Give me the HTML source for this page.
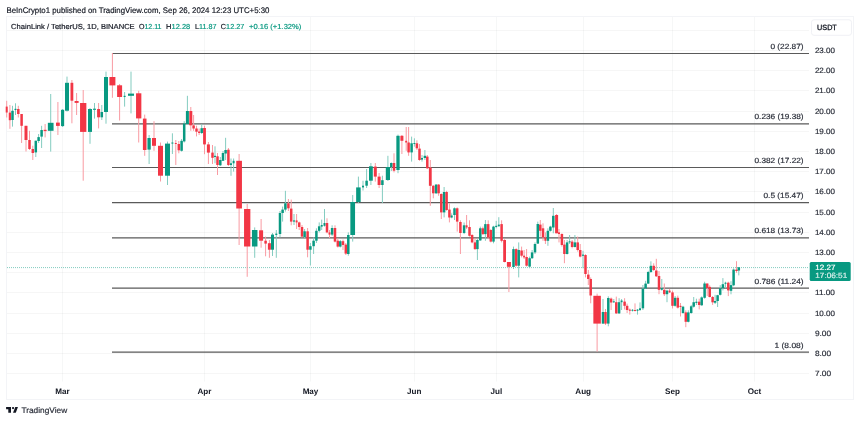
<!DOCTYPE html><html><head><meta charset="utf-8"><title>ChainLink / TetherUS</title><style>
html,body{margin:0;padding:0;background:#fff;}
body{width:860px;height:421px;overflow:hidden;position:relative;}
svg{position:absolute;left:0;top:0;}
text{font-family:'Liberation Sans', Arial, sans-serif;text-rendering:geometricPrecision;}
</style></head><body>
<svg width="860" height="421" viewBox="0 0 860 421">
<rect x="6.5" y="16.5" width="847" height="383" fill="#fff" stroke="#f3f4f7" stroke-width="1"/>
<g stroke="#000" stroke-opacity="0.035" stroke-width="1"><line x1="7" x2="809" y1="373.5" y2="373.5"/><line x1="7" x2="809" y1="353.5" y2="353.5"/><line x1="7" x2="809" y1="333.5" y2="333.5"/><line x1="7" x2="809" y1="313.5" y2="313.5"/><line x1="7" x2="809" y1="292.5" y2="292.5"/><line x1="7" x2="809" y1="272.5" y2="272.5"/><line x1="7" x2="809" y1="252.5" y2="252.5"/><line x1="7" x2="809" y1="232.5" y2="232.5"/><line x1="7" x2="809" y1="212.5" y2="212.5"/><line x1="7" x2="809" y1="191.5" y2="191.5"/><line x1="7" x2="809" y1="171.5" y2="171.5"/><line x1="7" x2="809" y1="151.5" y2="151.5"/><line x1="7" x2="809" y1="131.5" y2="131.5"/><line x1="7" x2="809" y1="111.5" y2="111.5"/><line x1="7" x2="809" y1="90.5" y2="90.5"/><line x1="7" x2="809" y1="70.5" y2="70.5"/><line x1="7" x2="809" y1="50.5" y2="50.5"/><line x1="7" x2="809" y1="30.5" y2="30.5"/></g>
<g stroke="#203030" stroke-opacity="0.04" stroke-width="1"><line x1="62.5" x2="62.5" y1="17" y2="381.5"/><line x1="204.5" x2="204.5" y1="17" y2="381.5"/><line x1="310.5" x2="310.5" y1="17" y2="381.5"/><line x1="414.5" x2="414.5" y1="17" y2="381.5"/><line x1="496.5" x2="496.5" y1="17" y2="381.5"/><line x1="583.5" x2="583.5" y1="17" y2="381.5"/><line x1="672.5" x2="672.5" y1="17" y2="381.5"/><line x1="754.5" x2="754.5" y1="17" y2="381.5"/></g>
<line x1="7" x2="809" y1="267.6" y2="267.6" stroke="#089981" stroke-opacity="0.5" stroke-width="1" stroke-dasharray="1 1"/>
<line x1="112" x2="809" y1="53.50" y2="53.50" stroke="#5a5a5a" stroke-width="1.05"/>
<line x1="112" x2="809" y1="123.85" y2="123.85" stroke="#5a5a5a" stroke-width="1.25"/>
<line x1="112" x2="809" y1="167.50" y2="167.50" stroke="#5a5a5a" stroke-width="1.05"/>
<line x1="112" x2="809" y1="202.55" y2="202.55" stroke="#5a5a5a" stroke-width="1.25"/>
<line x1="112" x2="809" y1="237.85" y2="237.85" stroke="#5a5a5a" stroke-width="1.25"/>
<line x1="112" x2="809" y1="288.00" y2="288.00" stroke="#5a5a5a" stroke-width="1.25"/>
<line x1="112" x2="809" y1="352.15" y2="352.15" stroke="#5a5a5a" stroke-width="1.25"/>
<text x="803.60" y="49.00" font-size="7.50" fill="#2a2e39" stroke="#2a2e39" stroke-width="0.18" text-anchor="end" textLength="33.20" lengthAdjust="spacingAndGlyphs">0 (22.87)</text>
<text x="803.60" y="119.35" font-size="7.50" fill="#2a2e39" stroke="#2a2e39" stroke-width="0.18" text-anchor="end" textLength="49.10" lengthAdjust="spacingAndGlyphs">0.236 (19.38)</text>
<text x="803.60" y="163.00" font-size="7.50" fill="#2a2e39" stroke="#2a2e39" stroke-width="0.18" text-anchor="end" textLength="49.10" lengthAdjust="spacingAndGlyphs">0.382 (17.22)</text>
<text x="803.60" y="198.05" font-size="7.50" fill="#2a2e39" stroke="#2a2e39" stroke-width="0.18" text-anchor="end" textLength="40.10" lengthAdjust="spacingAndGlyphs">0.5 (15.47)</text>
<text x="803.60" y="233.35" font-size="7.50" fill="#2a2e39" stroke="#2a2e39" stroke-width="0.18" text-anchor="end" textLength="49.10" lengthAdjust="spacingAndGlyphs">0.618 (13.73)</text>
<text x="803.60" y="283.50" font-size="7.50" fill="#2a2e39" stroke="#2a2e39" stroke-width="0.18" text-anchor="end" textLength="49.10" lengthAdjust="spacingAndGlyphs">0.786 (11.24)</text>
<text x="803.60" y="347.65" font-size="7.50" fill="#2a2e39" stroke="#2a2e39" stroke-width="0.18" text-anchor="end" textLength="29.10" lengthAdjust="spacingAndGlyphs">1 (8.08)</text>
<g><rect x="6.20" y="100.80" width="1" height="16.70" fill="#f99ba2"/><rect x="9.40" y="105.00" width="1" height="23.80" fill="#f99ba2"/><rect x="12.00" y="105.80" width="1" height="20.80" fill="#84ccc0"/><rect x="15.00" y="103.30" width="1" height="11.70" fill="#84ccc0"/><rect x="17.80" y="105.80" width="1" height="11.70" fill="#f99ba2"/><rect x="21.10" y="114.00" width="1" height="29.00" fill="#f99ba2"/><rect x="25.50" y="125.80" width="1" height="25.70" fill="#f99ba2"/><rect x="29.00" y="130.80" width="1" height="19.20" fill="#f99ba2"/><rect x="32.30" y="145.70" width="1" height="14.30" fill="#f99ba2"/><rect x="35.30" y="140.70" width="1" height="16.30" fill="#84ccc0"/><rect x="38.10" y="134.00" width="1" height="9.00" fill="#84ccc0"/><rect x="41.10" y="125.80" width="1" height="22.20" fill="#84ccc0"/><rect x="44.60" y="124.00" width="1" height="13.40" fill="#f99ba2"/><rect x="50.20" y="94.00" width="1" height="57.60" fill="#84ccc0"/><rect x="57.40" y="102.00" width="1" height="33.00" fill="#f99ba2"/><rect x="62.10" y="109.00" width="1" height="18.00" fill="#84ccc0"/><rect x="66.50" y="76.60" width="1" height="35.00" fill="#84ccc0"/><rect x="71.40" y="80.00" width="1" height="43.30" fill="#f99ba2"/><rect x="76.10" y="93.00" width="1" height="22.00" fill="#f99ba2"/><rect x="82.70" y="90.00" width="1" height="90.70" fill="#f99ba2"/><rect x="89.50" y="108.00" width="1" height="35.80" fill="#84ccc0"/><rect x="94.00" y="103.00" width="1" height="15.60" fill="#84ccc0"/><rect x="98.10" y="103.00" width="1" height="25.40" fill="#f99ba2"/><rect x="101.30" y="105.00" width="1" height="15.00" fill="#84ccc0"/><rect x="105.50" y="71.60" width="1" height="52.10" fill="#84ccc0"/><rect x="111.90" y="53.00" width="1" height="44.80" fill="#f99ba2"/><rect x="119.10" y="84.00" width="1" height="36.50" fill="#f99ba2"/><rect x="124.10" y="92.00" width="1" height="14.60" fill="#84ccc0"/><rect x="130.50" y="71.60" width="1" height="41.80" fill="#84ccc0"/><rect x="138.20" y="90.80" width="1" height="51.70" fill="#f99ba2"/><rect x="144.20" y="114.60" width="1" height="41.20" fill="#f99ba2"/><rect x="148.60" y="135.00" width="1" height="29.00" fill="#84ccc0"/><rect x="153.50" y="121.20" width="1" height="29.60" fill="#f99ba2"/><rect x="160.00" y="142.50" width="1" height="39.00" fill="#f99ba2"/><rect x="167.00" y="141.60" width="1" height="43.40" fill="#84ccc0"/><rect x="171.90" y="133.30" width="1" height="20.70" fill="#84ccc0"/><rect x="175.30" y="140.00" width="1" height="25.00" fill="#f99ba2"/><rect x="178.30" y="141.00" width="1" height="12.30" fill="#f99ba2"/><rect x="181.10" y="139.00" width="1" height="12.60" fill="#84ccc0"/><rect x="183.70" y="121.20" width="1" height="21.30" fill="#84ccc0"/><rect x="186.90" y="95.80" width="1" height="29.20" fill="#84ccc0"/><rect x="190.30" y="107.00" width="1" height="23.80" fill="#f99ba2"/><rect x="193.10" y="115.00" width="1" height="15.80" fill="#f99ba2"/><rect x="196.00" y="125.70" width="1" height="10.70" fill="#f99ba2"/><rect x="198.60" y="128.50" width="1" height="6.50" fill="#f99ba2"/><rect x="201.20" y="124.20" width="1" height="9.80" fill="#84ccc0"/><rect x="204.00" y="125.70" width="1" height="28.50" fill="#f99ba2"/><rect x="207.90" y="142.00" width="1" height="22.00" fill="#f99ba2"/><rect x="212.00" y="145.00" width="1" height="19.00" fill="#f99ba2"/><rect x="214.50" y="146.30" width="1" height="17.00" fill="#84ccc0"/><rect x="217.00" y="153.00" width="1" height="22.00" fill="#f99ba2"/><rect x="219.80" y="157.00" width="1" height="9.00" fill="#84ccc0"/><rect x="222.50" y="151.00" width="1" height="10.00" fill="#84ccc0"/><rect x="225.10" y="137.80" width="1" height="22.20" fill="#84ccc0"/><rect x="227.90" y="148.00" width="1" height="18.00" fill="#f99ba2"/><rect x="230.50" y="158.50" width="1" height="17.30" fill="#84ccc0"/><rect x="233.10" y="158.50" width="1" height="13.10" fill="#84ccc0"/><rect x="238.60" y="154.00" width="1" height="91.00" fill="#f99ba2"/><rect x="246.70" y="204.00" width="1" height="72.80" fill="#f99ba2"/><rect x="254.20" y="227.40" width="1" height="30.40" fill="#84ccc0"/><rect x="260.60" y="219.00" width="1" height="28.70" fill="#f99ba2"/><rect x="265.10" y="236.60" width="1" height="19.70" fill="#f99ba2"/><rect x="268.90" y="240.00" width="1" height="17.80" fill="#f99ba2"/><rect x="272.00" y="233.00" width="1" height="23.00" fill="#84ccc0"/><rect x="275.80" y="230.00" width="1" height="27.80" fill="#84ccc0"/><rect x="279.50" y="211.00" width="1" height="26.40" fill="#84ccc0"/><rect x="282.10" y="206.60" width="1" height="15.00" fill="#84ccc0"/><rect x="284.90" y="190.80" width="1" height="20.80" fill="#84ccc0"/><rect x="287.90" y="199.00" width="1" height="12.00" fill="#f99ba2"/><rect x="290.70" y="199.60" width="1" height="25.70" fill="#f99ba2"/><rect x="293.50" y="214.00" width="1" height="11.00" fill="#84ccc0"/><rect x="296.10" y="214.00" width="1" height="15.00" fill="#f99ba2"/><rect x="298.70" y="221.60" width="1" height="8.40" fill="#f99ba2"/><rect x="301.50" y="225.00" width="1" height="12.40" fill="#f99ba2"/><rect x="304.10" y="229.00" width="1" height="9.30" fill="#84ccc0"/><rect x="307.10" y="228.00" width="1" height="29.30" fill="#f99ba2"/><rect x="309.90" y="243.00" width="1" height="22.50" fill="#84ccc0"/><rect x="313.10" y="237.40" width="1" height="16.60" fill="#84ccc0"/><rect x="315.90" y="228.30" width="1" height="14.70" fill="#84ccc0"/><rect x="318.70" y="222.40" width="1" height="10.00" fill="#84ccc0"/><rect x="321.20" y="219.60" width="1" height="10.40" fill="#84ccc0"/><rect x="324.00" y="209.00" width="1" height="17.60" fill="#84ccc0"/><rect x="326.50" y="218.30" width="1" height="15.00" fill="#f99ba2"/><rect x="329.00" y="230.00" width="1" height="8.00" fill="#f99ba2"/><rect x="331.60" y="225.30" width="1" height="10.70" fill="#84ccc0"/><rect x="334.50" y="225.30" width="1" height="17.10" fill="#f99ba2"/><rect x="337.30" y="238.30" width="1" height="9.20" fill="#f99ba2"/><rect x="339.80" y="240.00" width="1" height="7.50" fill="#84ccc0"/><rect x="342.50" y="239.60" width="1" height="10.40" fill="#f99ba2"/><rect x="345.30" y="243.00" width="1" height="12.00" fill="#f99ba2"/><rect x="347.80" y="232.40" width="1" height="23.30" fill="#84ccc0"/><rect x="352.20" y="195.00" width="1" height="46.60" fill="#84ccc0"/><rect x="357.90" y="176.60" width="1" height="26.40" fill="#84ccc0"/><rect x="362.50" y="180.70" width="1" height="9.80" fill="#84ccc0"/><rect x="366.10" y="169.00" width="1" height="19.00" fill="#84ccc0"/><rect x="370.40" y="163.00" width="1" height="22.00" fill="#84ccc0"/><rect x="374.80" y="163.00" width="1" height="18.60" fill="#f99ba2"/><rect x="378.60" y="173.00" width="1" height="15.00" fill="#f99ba2"/><rect x="381.90" y="175.70" width="1" height="27.30" fill="#84ccc0"/><rect x="387.40" y="155.80" width="1" height="25.20" fill="#84ccc0"/><rect x="390.80" y="162.40" width="1" height="8.60" fill="#84ccc0"/><rect x="393.50" y="153.30" width="1" height="19.10" fill="#f99ba2"/><rect x="397.50" y="134.60" width="1" height="38.60" fill="#84ccc0"/><rect x="401.40" y="135.00" width="1" height="19.00" fill="#f99ba2"/><rect x="405.70" y="127.00" width="1" height="23.80" fill="#f99ba2"/><rect x="408.10" y="127.00" width="1" height="28.80" fill="#f99ba2"/><rect x="411.10" y="136.60" width="1" height="25.00" fill="#84ccc0"/><rect x="413.90" y="138.30" width="1" height="8.30" fill="#84ccc0"/><rect x="416.40" y="140.30" width="1" height="9.70" fill="#f99ba2"/><rect x="419.00" y="144.00" width="1" height="16.80" fill="#f99ba2"/><rect x="421.50" y="155.00" width="1" height="6.60" fill="#84ccc0"/><rect x="424.40" y="150.00" width="1" height="10.00" fill="#84ccc0"/><rect x="426.80" y="155.00" width="1" height="14.00" fill="#f99ba2"/><rect x="429.80" y="160.00" width="1" height="45.80" fill="#f99ba2"/><rect x="432.80" y="185.00" width="1" height="13.30" fill="#f99ba2"/><rect x="435.60" y="184.00" width="1" height="10.00" fill="#84ccc0"/><rect x="438.10" y="184.00" width="1" height="11.80" fill="#f99ba2"/><rect x="440.80" y="193.30" width="1" height="25.70" fill="#f99ba2"/><rect x="443.60" y="187.00" width="1" height="30.40" fill="#84ccc0"/><rect x="446.10" y="190.80" width="1" height="20.00" fill="#f99ba2"/><rect x="448.90" y="203.30" width="1" height="19.10" fill="#f99ba2"/><rect x="451.20" y="213.30" width="1" height="5.00" fill="#84ccc0"/><rect x="454.00" y="207.40" width="1" height="12.60" fill="#84ccc0"/><rect x="456.70" y="207.40" width="1" height="24.20" fill="#f99ba2"/><rect x="459.90" y="220.30" width="1" height="33.70" fill="#f99ba2"/><rect x="463.60" y="222.50" width="1" height="11.60" fill="#84ccc0"/><rect x="466.10" y="215.00" width="1" height="14.10" fill="#f99ba2"/><rect x="469.00" y="220.30" width="1" height="16.30" fill="#f99ba2"/><rect x="471.60" y="234.10" width="1" height="9.20" fill="#f99ba2"/><rect x="474.50" y="238.30" width="1" height="11.60" fill="#f99ba2"/><rect x="476.90" y="239.00" width="1" height="21.00" fill="#84ccc0"/><rect x="479.80" y="226.60" width="1" height="14.20" fill="#84ccc0"/><rect x="482.40" y="226.60" width="1" height="8.40" fill="#f99ba2"/><rect x="484.90" y="220.00" width="1" height="20.80" fill="#84ccc0"/><rect x="487.70" y="220.30" width="1" height="18.80" fill="#f99ba2"/><rect x="490.30" y="229.10" width="1" height="13.30" fill="#f99ba2"/><rect x="493.00" y="225.80" width="1" height="17.50" fill="#84ccc0"/><rect x="495.70" y="220.80" width="1" height="7.50" fill="#84ccc0"/><rect x="498.30" y="217.20" width="1" height="9.40" fill="#84ccc0"/><rect x="501.10" y="220.30" width="1" height="22.10" fill="#f99ba2"/><rect x="504.10" y="239.10" width="1" height="23.30" fill="#f99ba2"/><rect x="508.40" y="262.00" width="1" height="30.00" fill="#f99ba2"/><rect x="513.00" y="246.60" width="1" height="22.40" fill="#84ccc0"/><rect x="515.70" y="248.30" width="1" height="18.30" fill="#f99ba2"/><rect x="518.20" y="242.40" width="1" height="35.00" fill="#84ccc0"/><rect x="521.10" y="246.60" width="1" height="10.80" fill="#f99ba2"/><rect x="523.60" y="250.00" width="1" height="9.00" fill="#f99ba2"/><rect x="526.10" y="249.00" width="1" height="17.60" fill="#f99ba2"/><rect x="529.10" y="256.60" width="1" height="11.60" fill="#84ccc0"/><rect x="531.60" y="250.00" width="1" height="9.00" fill="#84ccc0"/><rect x="534.50" y="242.40" width="1" height="11.60" fill="#84ccc0"/><rect x="537.30" y="221.60" width="1" height="22.40" fill="#84ccc0"/><rect x="539.80" y="220.00" width="1" height="16.60" fill="#f99ba2"/><rect x="542.50" y="223.30" width="1" height="17.50" fill="#f99ba2"/><rect x="544.90" y="232.40" width="1" height="11.60" fill="#f99ba2"/><rect x="547.40" y="228.30" width="1" height="17.50" fill="#84ccc0"/><rect x="549.90" y="225.80" width="1" height="5.80" fill="#84ccc0"/><rect x="552.80" y="208.00" width="1" height="25.30" fill="#84ccc0"/><rect x="556.10" y="214.00" width="1" height="19.30" fill="#f99ba2"/><rect x="558.50" y="229.00" width="1" height="13.40" fill="#f99ba2"/><rect x="561.40" y="233.30" width="1" height="13.30" fill="#f99ba2"/><rect x="563.90" y="240.00" width="1" height="23.20" fill="#f99ba2"/><rect x="566.60" y="240.00" width="1" height="14.50" fill="#84ccc0"/><rect x="569.10" y="235.00" width="1" height="9.00" fill="#84ccc0"/><rect x="571.60" y="240.00" width="1" height="8.30" fill="#f99ba2"/><rect x="574.40" y="235.00" width="1" height="12.50" fill="#84ccc0"/><rect x="577.20" y="236.60" width="1" height="15.00" fill="#f99ba2"/><rect x="579.70" y="244.00" width="1" height="13.40" fill="#f99ba2"/><rect x="582.50" y="250.80" width="1" height="17.50" fill="#84ccc0"/><rect x="585.00" y="254.20" width="1" height="23.20" fill="#f99ba2"/><rect x="587.80" y="270.00" width="1" height="15.00" fill="#f99ba2"/><rect x="590.20" y="277.40" width="1" height="25.90" fill="#f99ba2"/><rect x="596.60" y="293.60" width="1" height="58.00" fill="#f99ba2"/><rect x="602.50" y="299.00" width="1" height="25.00" fill="#84ccc0"/><rect x="605.00" y="309.00" width="1" height="16.00" fill="#f99ba2"/><rect x="607.80" y="296.30" width="1" height="30.00" fill="#84ccc0"/><rect x="610.60" y="297.50" width="1" height="12.50" fill="#f99ba2"/><rect x="613.30" y="299.00" width="1" height="4.00" fill="#84ccc0"/><rect x="615.80" y="296.60" width="1" height="17.40" fill="#f99ba2"/><rect x="618.60" y="298.20" width="1" height="15.80" fill="#84ccc0"/><rect x="621.10" y="299.00" width="1" height="11.00" fill="#84ccc0"/><rect x="624.10" y="298.20" width="1" height="11.30" fill="#f99ba2"/><rect x="626.60" y="303.60" width="1" height="9.40" fill="#f99ba2"/><rect x="629.30" y="308.50" width="1" height="6.10" fill="#f99ba2"/><rect x="632.00" y="309.00" width="1" height="2.50" fill="#84ccc0"/><rect x="634.50" y="303.40" width="1" height="8.10" fill="#f99ba2"/><rect x="637.00" y="309.00" width="1" height="5.60" fill="#84ccc0"/><rect x="639.50" y="302.40" width="1" height="8.60" fill="#84ccc0"/><rect x="642.40" y="285.00" width="1" height="25.00" fill="#84ccc0"/><rect x="645.10" y="280.80" width="1" height="8.20" fill="#84ccc0"/><rect x="647.70" y="270.80" width="1" height="13.20" fill="#84ccc0"/><rect x="650.40" y="261.30" width="1" height="11.70" fill="#84ccc0"/><rect x="653.20" y="263.30" width="1" height="7.70" fill="#f99ba2"/><rect x="655.80" y="258.80" width="1" height="18.20" fill="#f99ba2"/><rect x="658.50" y="271.00" width="1" height="23.20" fill="#f99ba2"/><rect x="661.30" y="279.00" width="1" height="11.60" fill="#84ccc0"/><rect x="663.80" y="283.50" width="1" height="12.50" fill="#f99ba2"/><rect x="666.50" y="289.80" width="1" height="12.40" fill="#84ccc0"/><rect x="669.10" y="288.90" width="1" height="4.10" fill="#f99ba2"/><rect x="672.00" y="290.60" width="1" height="17.90" fill="#f99ba2"/><rect x="674.60" y="296.00" width="1" height="10.70" fill="#84ccc0"/><rect x="677.30" y="295.60" width="1" height="12.90" fill="#f99ba2"/><rect x="680.00" y="303.00" width="1" height="13.50" fill="#f99ba2"/><rect x="682.50" y="305.80" width="1" height="8.00" fill="#84ccc0"/><rect x="685.30" y="310.30" width="1" height="16.90" fill="#f99ba2"/><rect x="687.80" y="310.30" width="1" height="12.10" fill="#84ccc0"/><rect x="690.70" y="304.90" width="1" height="8.90" fill="#84ccc0"/><rect x="693.20" y="297.00" width="1" height="10.60" fill="#84ccc0"/><rect x="695.90" y="298.70" width="1" height="6.30" fill="#84ccc0"/><rect x="698.70" y="298.70" width="1" height="10.70" fill="#f99ba2"/><rect x="701.20" y="296.40" width="1" height="9.40" fill="#84ccc0"/><rect x="704.10" y="281.70" width="1" height="17.00" fill="#84ccc0"/><rect x="706.70" y="283.50" width="1" height="12.50" fill="#f99ba2"/><rect x="709.20" y="285.30" width="1" height="12.10" fill="#f99ba2"/><rect x="712.10" y="296.00" width="1" height="8.90" fill="#f99ba2"/><rect x="714.60" y="294.80" width="1" height="9.20" fill="#84ccc0"/><rect x="717.10" y="294.80" width="1" height="12.20" fill="#84ccc0"/><rect x="719.70" y="285.10" width="1" height="10.40" fill="#84ccc0"/><rect x="722.40" y="278.10" width="1" height="12.30" fill="#84ccc0"/><rect x="725.00" y="281.70" width="1" height="6.50" fill="#84ccc0"/><rect x="727.80" y="281.70" width="1" height="14.40" fill="#f99ba2"/><rect x="730.50" y="281.20" width="1" height="13.10" fill="#84ccc0"/><rect x="733.10" y="268.40" width="1" height="17.80" fill="#84ccc0"/><rect x="736.00" y="261.20" width="1" height="11.60" fill="#f99ba2"/><rect x="738.30" y="267.10" width="1" height="8.30" fill="#84ccc0"/></g>
<g><rect x="5.70" y="106.60" width="2.00" height="5.90" fill="#F23645"/><rect x="8.75" y="112.60" width="2.30" height="7.60" fill="#F23645"/><rect x="11.25" y="110.80" width="2.50" height="9.20" fill="#089981"/><rect x="14.50" y="108.80" width="2.00" height="1.20" fill="#089981"/><rect x="17.05" y="109.00" width="2.50" height="5.00" fill="#F23645"/><rect x="20.35" y="114.00" width="2.50" height="11.80" fill="#F23645"/><rect x="24.50" y="125.80" width="3.00" height="14.20" fill="#F23645"/><rect x="28.25" y="140.00" width="2.50" height="9.00" fill="#F23645"/><rect x="31.55" y="149.00" width="2.50" height="4.00" fill="#F23645"/><rect x="34.55" y="140.70" width="2.50" height="11.70" fill="#089981"/><rect x="37.35" y="137.10" width="2.50" height="3.90" fill="#089981"/><rect x="40.35" y="130.00" width="2.50" height="6.60" fill="#089981"/><rect x="43.60" y="129.80" width="3.00" height="1.30" fill="#F23645"/><rect x="47.85" y="122.80" width="5.70" height="8.00" fill="#089981"/><rect x="56.00" y="122.60" width="3.80" height="3.30" fill="#F23645"/><rect x="61.05" y="109.80" width="3.10" height="16.30" fill="#089981"/><rect x="65.00" y="82.80" width="4.00" height="27.90" fill="#089981"/><rect x="70.50" y="82.80" width="2.80" height="17.90" fill="#F23645"/><rect x="74.60" y="101.00" width="4.00" height="1.90" fill="#F23645"/><rect x="80.05" y="103.00" width="6.30" height="28.90" fill="#F23645"/><rect x="88.00" y="109.00" width="4.00" height="22.90" fill="#089981"/><rect x="93.00" y="108.70" width="3.00" height="1.10" fill="#089981"/><rect x="97.10" y="109.00" width="3.00" height="8.30" fill="#F23645"/><rect x="100.55" y="112.00" width="2.50" height="5.30" fill="#089981"/><rect x="104.00" y="77.00" width="4.00" height="35.00" fill="#089981"/><rect x="109.40" y="77.00" width="6.00" height="8.40" fill="#F23645"/><rect x="117.10" y="85.30" width="5.00" height="11.70" fill="#F23645"/><rect x="123.60" y="95.80" width="2.00" height="1.20" fill="#089981"/><rect x="128.00" y="93.60" width="6.00" height="2.20" fill="#089981"/><rect x="136.05" y="93.30" width="5.30" height="25.10" fill="#F23645"/><rect x="142.90" y="118.60" width="3.60" height="31.40" fill="#F23645"/><rect x="147.45" y="138.00" width="3.30" height="11.60" fill="#089981"/><rect x="152.00" y="138.00" width="4.00" height="7.80" fill="#F23645"/><rect x="158.00" y="145.80" width="5.00" height="29.90" fill="#F23645"/><rect x="165.00" y="143.60" width="5.00" height="32.10" fill="#089981"/><rect x="171.40" y="142.50" width="2.00" height="1.10" fill="#089981"/><rect x="174.80" y="143.00" width="2.00" height="1.00" fill="#F23645"/><rect x="177.55" y="144.00" width="2.50" height="6.30" fill="#F23645"/><rect x="180.35" y="140.80" width="2.50" height="10.00" fill="#089981"/><rect x="182.95" y="123.50" width="2.50" height="17.90" fill="#089981"/><rect x="185.90" y="111.00" width="3.00" height="13.00" fill="#089981"/><rect x="189.30" y="111.00" width="3.00" height="14.30" fill="#F23645"/><rect x="192.35" y="125.40" width="2.50" height="3.10" fill="#F23645"/><rect x="195.25" y="128.50" width="2.50" height="3.20" fill="#F23645"/><rect x="198.10" y="131.50" width="2.00" height="1.50" fill="#F23645"/><rect x="200.45" y="128.20" width="2.50" height="4.80" fill="#089981"/><rect x="203.10" y="128.00" width="2.80" height="16.40" fill="#F23645"/><rect x="206.90" y="144.40" width="3.00" height="8.20" fill="#F23645"/><rect x="211.25" y="152.60" width="2.50" height="5.20" fill="#F23645"/><rect x="214.00" y="155.80" width="2.00" height="1.20" fill="#089981"/><rect x="216.25" y="156.30" width="2.50" height="8.70" fill="#F23645"/><rect x="219.05" y="160.00" width="2.50" height="5.30" fill="#089981"/><rect x="221.75" y="153.00" width="2.50" height="7.80" fill="#089981"/><rect x="224.35" y="150.00" width="2.50" height="3.50" fill="#089981"/><rect x="227.15" y="149.70" width="2.50" height="15.30" fill="#F23645"/><rect x="230.00" y="163.30" width="2.00" height="1.70" fill="#089981"/><rect x="232.60" y="160.80" width="2.00" height="2.50" fill="#089981"/><rect x="236.25" y="160.80" width="5.70" height="47.70" fill="#F23645"/><rect x="244.05" y="209.00" width="6.30" height="37.50" fill="#F23645"/><rect x="251.95" y="230.00" width="5.50" height="16.50" fill="#089981"/><rect x="259.10" y="230.30" width="4.00" height="10.40" fill="#F23645"/><rect x="264.35" y="240.70" width="2.50" height="2.90" fill="#F23645"/><rect x="267.90" y="243.20" width="3.00" height="6.50" fill="#F23645"/><rect x="271.00" y="234.60" width="3.00" height="15.10" fill="#089981"/><rect x="275.30" y="233.60" width="2.00" height="1.40" fill="#089981"/><rect x="278.75" y="213.00" width="2.50" height="21.00" fill="#089981"/><rect x="281.35" y="209.60" width="2.50" height="3.40" fill="#089981"/><rect x="284.15" y="203.30" width="2.50" height="6.30" fill="#089981"/><rect x="287.15" y="203.30" width="2.50" height="5.00" fill="#F23645"/><rect x="289.95" y="208.60" width="2.50" height="13.00" fill="#F23645"/><rect x="293.00" y="220.40" width="2.00" height="1.20" fill="#089981"/><rect x="295.60" y="220.40" width="2.00" height="2.00" fill="#F23645"/><rect x="297.95" y="222.40" width="2.50" height="4.60" fill="#F23645"/><rect x="300.75" y="227.00" width="2.50" height="9.60" fill="#F23645"/><rect x="303.35" y="231.30" width="2.50" height="5.70" fill="#089981"/><rect x="306.35" y="231.30" width="2.50" height="18.40" fill="#F23645"/><rect x="309.15" y="246.20" width="2.50" height="3.50" fill="#089981"/><rect x="312.35" y="240.70" width="2.50" height="5.50" fill="#089981"/><rect x="315.15" y="230.80" width="2.50" height="9.90" fill="#089981"/><rect x="317.95" y="226.30" width="2.50" height="4.50" fill="#089981"/><rect x="320.70" y="225.00" width="2.00" height="1.60" fill="#089981"/><rect x="323.50" y="223.00" width="2.00" height="2.80" fill="#089981"/><rect x="325.75" y="223.00" width="2.50" height="9.40" fill="#F23645"/><rect x="328.50" y="232.40" width="2.00" height="2.20" fill="#F23645"/><rect x="330.85" y="228.00" width="2.50" height="6.60" fill="#089981"/><rect x="333.75" y="228.00" width="2.50" height="13.60" fill="#F23645"/><rect x="336.55" y="240.70" width="2.50" height="5.90" fill="#F23645"/><rect x="339.05" y="241.20" width="2.50" height="5.40" fill="#089981"/><rect x="341.75" y="241.20" width="2.50" height="3.80" fill="#F23645"/><rect x="344.55" y="244.60" width="2.50" height="9.00" fill="#F23645"/><rect x="347.05" y="235.00" width="2.50" height="19.00" fill="#089981"/><rect x="350.35" y="202.00" width="4.70" height="33.00" fill="#089981"/><rect x="356.15" y="187.40" width="4.50" height="14.60" fill="#089981"/><rect x="362.00" y="185.70" width="2.00" height="1.70" fill="#089981"/><rect x="365.35" y="180.70" width="2.50" height="5.00" fill="#089981"/><rect x="369.00" y="166.30" width="3.80" height="14.40" fill="#089981"/><rect x="373.80" y="166.60" width="3.00" height="10.00" fill="#F23645"/><rect x="377.60" y="176.60" width="3.00" height="8.40" fill="#F23645"/><rect x="381.15" y="180.20" width="2.50" height="4.80" fill="#089981"/><rect x="385.80" y="167.00" width="4.20" height="13.00" fill="#089981"/><rect x="390.05" y="163.00" width="2.50" height="4.00" fill="#089981"/><rect x="392.75" y="163.00" width="2.50" height="7.70" fill="#F23645"/><rect x="396.35" y="135.80" width="3.30" height="34.20" fill="#089981"/><rect x="400.40" y="135.80" width="3.00" height="5.00" fill="#F23645"/><rect x="405.20" y="140.80" width="2.00" height="1.70" fill="#F23645"/><rect x="407.35" y="142.50" width="2.50" height="9.90" fill="#F23645"/><rect x="410.35" y="143.30" width="2.50" height="9.10" fill="#089981"/><rect x="413.40" y="143.00" width="2.00" height="1.00" fill="#089981"/><rect x="415.65" y="143.30" width="2.50" height="5.00" fill="#F23645"/><rect x="418.25" y="148.60" width="2.50" height="11.40" fill="#F23645"/><rect x="421.00" y="158.00" width="2.00" height="1.60" fill="#089981"/><rect x="423.65" y="155.80" width="2.50" height="2.20" fill="#089981"/><rect x="426.05" y="156.60" width="2.50" height="11.70" fill="#F23645"/><rect x="428.90" y="167.50" width="2.80" height="18.30" fill="#F23645"/><rect x="432.05" y="185.80" width="2.50" height="7.50" fill="#F23645"/><rect x="434.85" y="184.60" width="2.50" height="8.70" fill="#089981"/><rect x="437.35" y="184.60" width="2.50" height="8.70" fill="#F23645"/><rect x="440.05" y="194.00" width="2.50" height="18.40" fill="#F23645"/><rect x="442.85" y="192.00" width="2.50" height="20.40" fill="#089981"/><rect x="445.35" y="192.00" width="2.50" height="18.00" fill="#F23645"/><rect x="448.15" y="209.60" width="2.50" height="7.90" fill="#F23645"/><rect x="450.70" y="215.50" width="2.00" height="2.00" fill="#089981"/><rect x="453.25" y="208.30" width="2.50" height="6.70" fill="#089981"/><rect x="455.95" y="208.30" width="2.50" height="13.30" fill="#F23645"/><rect x="459.15" y="222.00" width="2.50" height="11.00" fill="#F23645"/><rect x="462.85" y="225.30" width="2.50" height="7.70" fill="#089981"/><rect x="465.60" y="225.30" width="2.00" height="2.20" fill="#F23645"/><rect x="468.25" y="227.00" width="2.50" height="8.80" fill="#F23645"/><rect x="470.85" y="235.00" width="2.50" height="7.40" fill="#F23645"/><rect x="473.75" y="242.40" width="2.50" height="6.70" fill="#F23645"/><rect x="476.15" y="240.00" width="2.50" height="9.10" fill="#089981"/><rect x="479.05" y="228.30" width="2.50" height="12.10" fill="#089981"/><rect x="481.65" y="228.30" width="2.50" height="5.80" fill="#F23645"/><rect x="484.15" y="224.10" width="2.50" height="10.00" fill="#089981"/><rect x="486.95" y="224.10" width="2.50" height="13.40" fill="#F23645"/><rect x="489.55" y="230.00" width="2.50" height="11.60" fill="#F23645"/><rect x="492.25" y="226.60" width="2.50" height="15.00" fill="#089981"/><rect x="495.20" y="225.80" width="2.00" height="1.20" fill="#089981"/><rect x="497.80" y="224.60" width="2.00" height="1.70" fill="#089981"/><rect x="500.35" y="224.10" width="2.50" height="16.70" fill="#F23645"/><rect x="503.20" y="240.00" width="2.80" height="22.00" fill="#F23645"/><rect x="506.90" y="262.00" width="4.00" height="4.80" fill="#F23645"/><rect x="512.25" y="249.10" width="2.50" height="17.90" fill="#089981"/><rect x="514.95" y="249.10" width="2.50" height="16.60" fill="#F23645"/><rect x="517.45" y="250.00" width="2.50" height="15.70" fill="#089981"/><rect x="520.35" y="250.50" width="2.50" height="5.20" fill="#F23645"/><rect x="523.10" y="255.70" width="2.00" height="1.70" fill="#F23645"/><rect x="525.35" y="257.00" width="2.50" height="8.70" fill="#F23645"/><rect x="528.35" y="258.20" width="2.50" height="8.40" fill="#089981"/><rect x="530.85" y="252.40" width="2.50" height="5.80" fill="#089981"/><rect x="533.75" y="244.00" width="2.50" height="8.40" fill="#089981"/><rect x="536.55" y="224.00" width="2.50" height="19.60" fill="#089981"/><rect x="539.05" y="224.60" width="2.50" height="6.20" fill="#F23645"/><rect x="541.75" y="228.30" width="2.50" height="9.10" fill="#F23645"/><rect x="544.40" y="237.40" width="2.00" height="3.40" fill="#F23645"/><rect x="546.65" y="230.80" width="2.50" height="10.00" fill="#089981"/><rect x="549.15" y="226.60" width="2.50" height="4.20" fill="#089981"/><rect x="552.05" y="215.80" width="2.50" height="11.70" fill="#089981"/><rect x="555.10" y="215.00" width="3.00" height="18.30" fill="#F23645"/><rect x="558.00" y="232.40" width="2.00" height="1.60" fill="#F23645"/><rect x="560.65" y="234.00" width="2.50" height="11.00" fill="#F23645"/><rect x="563.15" y="244.60" width="2.50" height="9.40" fill="#F23645"/><rect x="565.85" y="242.40" width="2.50" height="11.60" fill="#089981"/><rect x="568.60" y="241.30" width="2.00" height="1.10" fill="#089981"/><rect x="570.85" y="241.60" width="2.50" height="5.40" fill="#F23645"/><rect x="573.65" y="242.40" width="2.50" height="4.60" fill="#089981"/><rect x="576.45" y="242.40" width="2.50" height="7.60" fill="#F23645"/><rect x="578.95" y="250.00" width="2.50" height="6.60" fill="#F23645"/><rect x="582.00" y="254.60" width="2.00" height="1.20" fill="#089981"/><rect x="584.25" y="255.00" width="2.50" height="19.00" fill="#F23645"/><rect x="587.05" y="274.60" width="2.50" height="4.40" fill="#F23645"/><rect x="589.45" y="279.00" width="2.50" height="16.50" fill="#F23645"/><rect x="593.35" y="295.80" width="7.50" height="27.80" fill="#F23645"/><rect x="601.75" y="312.00" width="2.50" height="11.60" fill="#089981"/><rect x="604.25" y="312.00" width="2.50" height="11.60" fill="#F23645"/><rect x="607.05" y="298.00" width="2.50" height="25.60" fill="#089981"/><rect x="609.85" y="298.60" width="2.50" height="3.90" fill="#F23645"/><rect x="612.80" y="301.30" width="2.00" height="1.00" fill="#089981"/><rect x="615.05" y="302.20" width="2.50" height="11.20" fill="#F23645"/><rect x="617.85" y="302.20" width="2.50" height="11.20" fill="#089981"/><rect x="620.60" y="300.50" width="2.00" height="1.70" fill="#089981"/><rect x="623.35" y="301.60" width="2.50" height="4.20" fill="#F23645"/><rect x="625.85" y="305.80" width="2.50" height="4.20" fill="#F23645"/><rect x="628.80" y="309.60" width="2.00" height="1.20" fill="#F23645"/><rect x="631.50" y="309.80" width="2.00" height="1.00" fill="#089981"/><rect x="634.00" y="310.00" width="2.00" height="1.00" fill="#F23645"/><rect x="636.50" y="309.60" width="2.00" height="1.20" fill="#089981"/><rect x="639.00" y="308.30" width="2.00" height="1.70" fill="#089981"/><rect x="641.65" y="288.60" width="2.50" height="19.70" fill="#089981"/><rect x="644.35" y="283.60" width="2.50" height="5.00" fill="#089981"/><rect x="646.95" y="272.00" width="2.50" height="11.60" fill="#089981"/><rect x="649.65" y="265.80" width="2.50" height="6.20" fill="#089981"/><rect x="652.45" y="265.80" width="2.50" height="4.20" fill="#F23645"/><rect x="655.05" y="270.50" width="2.50" height="5.80" fill="#F23645"/><rect x="657.75" y="276.00" width="2.50" height="13.80" fill="#F23645"/><rect x="660.80" y="288.00" width="2.00" height="1.80" fill="#089981"/><rect x="663.05" y="289.80" width="2.50" height="4.40" fill="#F23645"/><rect x="665.75" y="290.60" width="2.50" height="3.60" fill="#089981"/><rect x="668.60" y="290.60" width="2.00" height="1.80" fill="#F23645"/><rect x="671.25" y="292.40" width="2.50" height="13.40" fill="#F23645"/><rect x="673.85" y="297.80" width="2.50" height="8.00" fill="#089981"/><rect x="676.55" y="297.80" width="2.50" height="9.80" fill="#F23645"/><rect x="679.50" y="305.80" width="2.00" height="1.20" fill="#F23645"/><rect x="681.75" y="306.70" width="2.50" height="6.30" fill="#089981"/><rect x="684.55" y="312.40" width="2.50" height="9.40" fill="#F23645"/><rect x="687.05" y="312.40" width="2.50" height="9.40" fill="#089981"/><rect x="689.95" y="306.30" width="2.50" height="6.70" fill="#089981"/><rect x="692.45" y="302.20" width="2.50" height="4.50" fill="#089981"/><rect x="695.40" y="301.70" width="2.00" height="1.30" fill="#089981"/><rect x="697.95" y="301.70" width="2.50" height="3.30" fill="#F23645"/><rect x="700.45" y="297.40" width="2.50" height="7.90" fill="#089981"/><rect x="703.35" y="283.50" width="2.50" height="14.30" fill="#089981"/><rect x="705.95" y="283.50" width="2.50" height="4.50" fill="#F23645"/><rect x="708.45" y="286.90" width="2.50" height="10.10" fill="#F23645"/><rect x="711.35" y="297.00" width="2.50" height="5.30" fill="#F23645"/><rect x="713.85" y="301.00" width="2.50" height="1.70" fill="#089981"/><rect x="716.35" y="295.20" width="2.50" height="5.80" fill="#089981"/><rect x="718.95" y="288.20" width="2.50" height="6.60" fill="#089981"/><rect x="721.65" y="284.20" width="2.50" height="4.00" fill="#089981"/><rect x="724.50" y="282.70" width="2.00" height="1.10" fill="#089981"/><rect x="727.05" y="282.70" width="2.50" height="7.70" fill="#F23645"/><rect x="729.75" y="285.10" width="2.50" height="5.70" fill="#089981"/><rect x="732.35" y="269.60" width="2.50" height="15.70" fill="#089981"/><rect x="735.25" y="269.60" width="2.50" height="1.40" fill="#F23645"/><rect x="737.55" y="267.30" width="2.50" height="3.20" fill="#089981"/></g>
<text x="814.90" y="376.31" font-size="7.60" fill="#2a2e39" stroke="#2a2e39" stroke-width="0.18" textLength="16.20" lengthAdjust="spacingAndGlyphs">7.00</text>
<text x="814.90" y="356.11" font-size="7.60" fill="#2a2e39" stroke="#2a2e39" stroke-width="0.18" textLength="16.20" lengthAdjust="spacingAndGlyphs">8.00</text>
<text x="814.90" y="335.90" font-size="7.60" fill="#2a2e39" stroke="#2a2e39" stroke-width="0.18" textLength="16.20" lengthAdjust="spacingAndGlyphs">9.00</text>
<text x="814.90" y="315.69" font-size="7.60" fill="#2a2e39" stroke="#2a2e39" stroke-width="0.18" textLength="20.10" lengthAdjust="spacingAndGlyphs">10.00</text>
<text x="814.90" y="295.48" font-size="7.60" fill="#2a2e39" stroke="#2a2e39" stroke-width="0.18" textLength="20.10" lengthAdjust="spacingAndGlyphs">11.00</text>
<text x="814.90" y="255.07" font-size="7.60" fill="#2a2e39" stroke="#2a2e39" stroke-width="0.18" textLength="20.10" lengthAdjust="spacingAndGlyphs">13.00</text>
<text x="814.90" y="234.86" font-size="7.60" fill="#2a2e39" stroke="#2a2e39" stroke-width="0.18" textLength="20.10" lengthAdjust="spacingAndGlyphs">14.00</text>
<text x="814.90" y="214.66" font-size="7.60" fill="#2a2e39" stroke="#2a2e39" stroke-width="0.18" textLength="20.10" lengthAdjust="spacingAndGlyphs">15.00</text>
<text x="814.90" y="194.45" font-size="7.60" fill="#2a2e39" stroke="#2a2e39" stroke-width="0.18" textLength="20.10" lengthAdjust="spacingAndGlyphs">16.00</text>
<text x="814.90" y="174.24" font-size="7.60" fill="#2a2e39" stroke="#2a2e39" stroke-width="0.18" textLength="20.10" lengthAdjust="spacingAndGlyphs">17.00</text>
<text x="814.90" y="154.03" font-size="7.60" fill="#2a2e39" stroke="#2a2e39" stroke-width="0.18" textLength="20.10" lengthAdjust="spacingAndGlyphs">18.00</text>
<text x="814.90" y="133.83" font-size="7.60" fill="#2a2e39" stroke="#2a2e39" stroke-width="0.18" textLength="20.10" lengthAdjust="spacingAndGlyphs">19.00</text>
<text x="814.90" y="113.62" font-size="7.60" fill="#2a2e39" stroke="#2a2e39" stroke-width="0.18" textLength="20.10" lengthAdjust="spacingAndGlyphs">20.00</text>
<text x="814.90" y="93.41" font-size="7.60" fill="#2a2e39" stroke="#2a2e39" stroke-width="0.18" textLength="20.10" lengthAdjust="spacingAndGlyphs">21.00</text>
<text x="814.90" y="73.21" font-size="7.60" fill="#2a2e39" stroke="#2a2e39" stroke-width="0.18" textLength="20.10" lengthAdjust="spacingAndGlyphs">22.00</text>
<text x="814.90" y="53.00" font-size="7.60" fill="#2a2e39" stroke="#2a2e39" stroke-width="0.18" textLength="20.10" lengthAdjust="spacingAndGlyphs">23.00</text>
<rect x="811.5" y="19.8" width="40" height="15.5" rx="2.5" fill="#fff" stroke="#f0f1f5"/>
<text x="817.10" y="30.00" font-size="7.60" fill="#131722" stroke="#131722" stroke-width="0.18" textLength="19.70" lengthAdjust="spacingAndGlyphs" style="stroke-width:0.3">USDT</text>
<rect x="809.7" y="262.1" width="41" height="19" rx="1.5" fill="#089981"/>
<text x="815.30" y="270.20" font-size="7.60" fill="#fff" stroke="#fff" stroke-width="0.18" textLength="20.10" lengthAdjust="spacingAndGlyphs">12.27</text>
<text x="815.30" y="278.40" font-size="7.60" fill="#fff" stroke="#fff" stroke-width="0.18" textLength="31.90" lengthAdjust="spacingAndGlyphs" fill-opacity="0.72">17:06:51</text>
<text x="62.50" y="394.00" font-size="8.10" fill="#131722" stroke="#131722" stroke-width="0" text-anchor="middle" font-weight="bold">Mar</text>
<text x="204.50" y="394.00" font-size="8.10" fill="#131722" stroke="#131722" stroke-width="0" text-anchor="middle" font-weight="bold">Apr</text>
<text x="310.50" y="394.00" font-size="8.10" fill="#131722" stroke="#131722" stroke-width="0" text-anchor="middle" font-weight="bold">May</text>
<text x="414.30" y="394.00" font-size="8.10" fill="#131722" stroke="#131722" stroke-width="0" text-anchor="middle" font-weight="bold">Jun</text>
<text x="496.30" y="394.00" font-size="8.10" fill="#131722" stroke="#131722" stroke-width="0" text-anchor="middle" font-weight="bold">Jul</text>
<text x="583.20" y="394.00" font-size="8.10" fill="#131722" stroke="#131722" stroke-width="0" text-anchor="middle" font-weight="bold">Aug</text>
<text x="672.50" y="394.00" font-size="8.10" fill="#131722" stroke="#131722" stroke-width="0" text-anchor="middle" font-weight="bold">Sep</text>
<text x="754.50" y="394.00" font-size="8.10" fill="#131722" stroke="#131722" stroke-width="0" text-anchor="middle" font-weight="bold">Oct</text>
<text x="6.50" y="12.80" font-size="8.10" fill="#131722" stroke="#131722" stroke-width="0.18" textLength="262.90" lengthAdjust="spacingAndGlyphs">BeInCrypto1 published on TradingView.com, Sep 26, 2024 12:23 UTC+5:30</text>
<text x="11.10" y="29.00" font-size="7.30" fill="#131722" stroke="#131722" stroke-width="0.18" textLength="123.60" lengthAdjust="spacingAndGlyphs">ChainLink / TetherUS, 1D, BINANCE</text>
<text x="138.9" y="29" font-size="7.3" fill="#131722" stroke="#131722" stroke-width="0.18" textLength="22.6" lengthAdjust="spacingAndGlyphs">O<tspan fill="#089981" stroke="#089981">12.11</tspan></text>
<text x="166.1" y="29" font-size="7.3" fill="#131722" stroke="#131722" stroke-width="0.18" textLength="24.1" lengthAdjust="spacingAndGlyphs">H<tspan fill="#089981" stroke="#089981">12.28</tspan></text>
<text x="194.9" y="29" font-size="7.3" fill="#131722" stroke="#131722" stroke-width="0.18" textLength="21.5" lengthAdjust="spacingAndGlyphs">L<tspan fill="#089981" stroke="#089981">11.87</tspan></text>
<text x="220.8" y="29" font-size="7.3" fill="#131722" stroke="#131722" stroke-width="0.18" textLength="23.6" lengthAdjust="spacingAndGlyphs">C<tspan fill="#089981" stroke="#089981">12.27</tspan></text>
<text x="249.00" y="29.00" font-size="7.30" fill="#089981" stroke="#089981" stroke-width="0.18" textLength="52.40" lengthAdjust="spacingAndGlyphs">+0.16 (+1.32%)</text>
<g fill="#131722"><path d="M6.1 406.9h4.9v5.8h-2.7v-3.4H6.1z"/><circle cx="13.05" cy="408.1" r="1.15"/><path d="M15.25 406.9h2.7l-2.2 5.8h-2.7z"/></g>
<text x="21.40" y="412.70" font-size="8.10" fill="#2a2e39" stroke="#2a2e39" stroke-width="0.18" textLength="45.80" lengthAdjust="spacingAndGlyphs">TradingView</text>
</svg></body></html>
